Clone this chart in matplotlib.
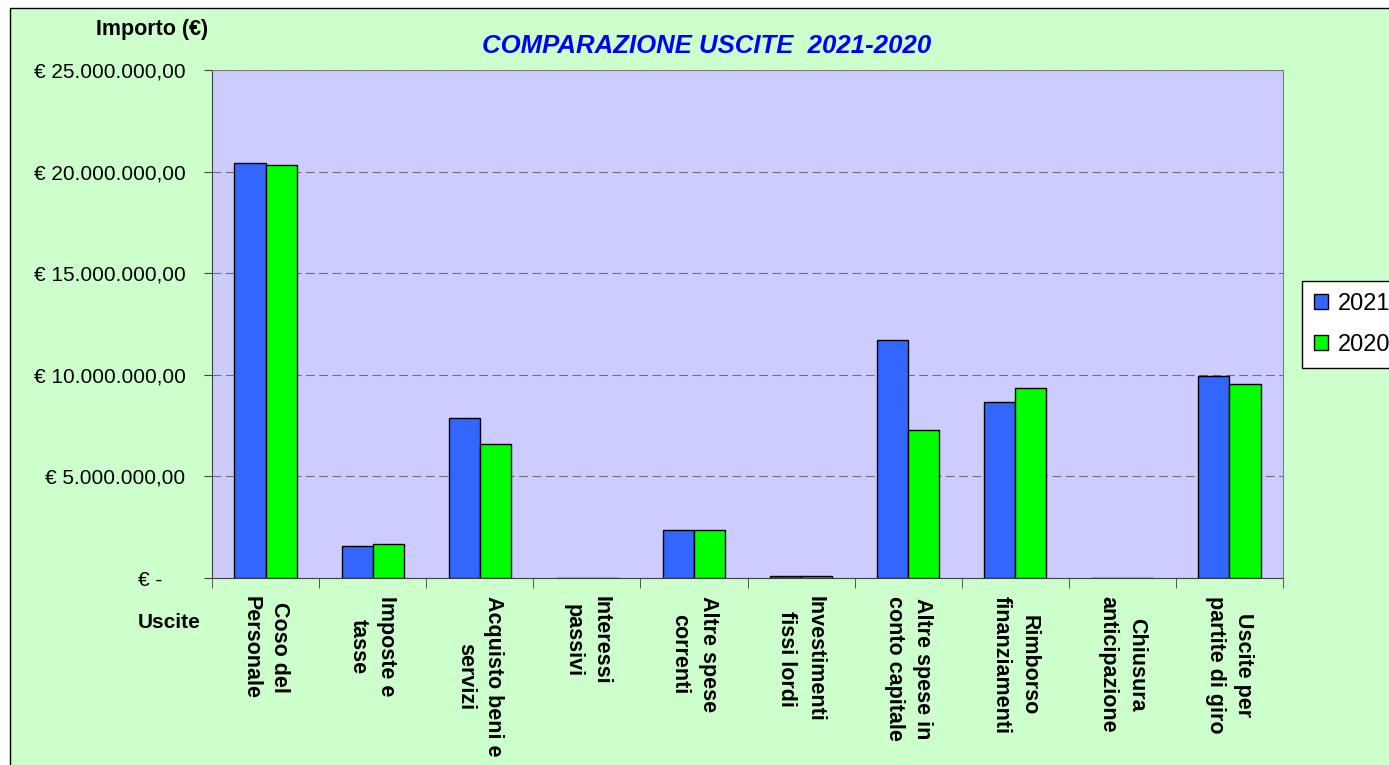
import numpy as np
import matplotlib
matplotlib.use("Agg")
import matplotlib.pyplot as plt
from matplotlib.patches import Rectangle
from matplotlib.ticker import FuncFormatter

plt.rcParams['font.family'] = ['Liberation Sans', 'DejaVu Sans']

# dati
categorie = ["Coso del\nPersonale", "Imposte e\ntasse", "Acquisto beni e\nservizi",
             "Interessi\npassivi", "Altre spese\ncorrenti", "Investimenti\nfissi lordi",
             "Altre spese in\nconto capitale", "Rimborso\nfinanziamenti",
             "Chiusura\nanticipazione", "Uscite per\npartite di giro"]
uscite_2021 = [20420000, 1580000, 7870000, 0, 2360000, 80000, 11710000, 8660000, 0, 9940000]
uscite_2020 = [20320000, 1670000, 6600000, 0, 2360000, 80000, 7280000, 9350000, 0, 9550000]
anni = ["2021", "2020"]
yticks = [0, 5e6, 10e6, 15e6, 20e6, 25e6]

W, H = 1389, 765
fig = plt.figure(figsize=(W / 100, H / 100), dpi=100, facecolor='white')

# cornice esterna verde
fig.patches.append(Rectangle((10 / W, -0.1), 1.2, 1 - 8 / H + 0.1, transform=fig.transFigure,
                             facecolor='#CCFFCC', edgecolor='black', lw=1, zorder=-10))

ax = fig.add_axes([212 / W, 1 - 578 / H, (1283 - 212) / W, (578 - 70) / H])
ax.set_facecolor('#CCCCFF')

x = np.arange(len(categorie))
bw = 0.29
ax.bar(x - bw / 2, uscite_2021, bw, color='#3366FF', edgecolor='black', lw=1, label=anni[0], zorder=3)
ax.bar(x + bw / 2, uscite_2020, bw, color='#00FF00', edgecolor='black', lw=1, label=anni[1], zorder=3)

ax.set_xlim(-0.5, len(categorie) - 0.5)
ax.set_ylim(0, 25e6)
ax.set_yticks(yticks)
ax.yaxis.grid(True, color='#707070', ls=(0, (8, 4)), lw=0.8, zorder=0)


def euro(v, pos):
    if v == 0:
        return "€ -    "
    s = f"{v:,.2f}".replace(",", "X").replace(".", ",").replace("X", ".")
    return "€ " + s


ax.yaxis.set_major_formatter(FuncFormatter(euro))
ax.tick_params(axis='y', direction='out', length=6, pad=13, labelsize=15, color='#404040')

ax.set_xticks(x)
ax.set_xticklabels(categorie, rotation=270, fontweight='bold', fontsize=15.5,
                   multialignment='center', va='top', ha='center', linespacing=1.45)
ax.tick_params(axis='x', which='major', length=0, pad=13)
ax.set_xticks(np.arange(len(categorie) + 1) - 0.5, minor=True)
ax.tick_params(axis='x', which='minor', direction='out', length=7, color='#404040')

for s in ['top', 'right']:
    ax.spines[s].set_color('#808080')
for s in ['left', 'bottom']:
    ax.spines[s].set_color('#404040')

fig.text(707 / W, 1 - 46 / H, "COMPARAZIONE USCITE  2021-2020", color='#0000FF',
         fontsize=18.5, fontweight='bold', fontstyle='italic', ha='center', va='center')
fig.text(152 / W, 1 - 30 / H, "Importo (€)", fontsize=15.5, fontweight='bold', ha='center', va='center')
fig.text(169 / W, 1 - 622 / H, "Uscite", fontsize=15, fontweight='bold', ha='center', va='center')

leg = ax.legend(loc='upper left', bbox_to_anchor=(1302 / W, 1 - 281 / H), bbox_transform=fig.transFigure,
                frameon=True, fancybox=False, edgecolor='black', facecolor='white', framealpha=1,
                fontsize=17, handlelength=0.6, handleheight=0.6, handletextpad=0.4,
                labelspacing=0.8, borderpad=0.5, borderaxespad=0)
leg.get_frame().set_linewidth(1)

fig.savefig("out.png", dpi=100, facecolor=fig.get_facecolor())
